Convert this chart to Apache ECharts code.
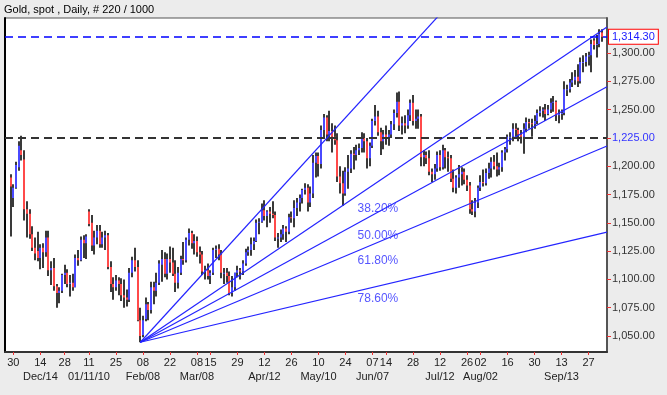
<!DOCTYPE html>
<html><head><meta charset="utf-8">
<script src="https://cdn.jsdelivr.net/npm/echarts@6/dist/echarts.min.js"></script>
<style>html,body{margin:0;padding:0;background:#ececec}#c{width:667px;height:395px}</style>
</head><body><div id="c"></div>
<script>
const dates = [
'2009-11-27','2009-11-30',
'2009-12-01','2009-12-02','2009-12-03','2009-12-04','2009-12-07','2009-12-08','2009-12-09','2009-12-10','2009-12-11','2009-12-14','2009-12-15','2009-12-16','2009-12-17','2009-12-18','2009-12-21','2009-12-22','2009-12-23','2009-12-24','2009-12-28','2009-12-29','2009-12-30','2009-12-31',
'2010-01-04','2010-01-05','2010-01-06','2010-01-07','2010-01-08','2010-01-11','2010-01-12','2010-01-13','2010-01-14','2010-01-15','2010-01-18','2010-01-19','2010-01-20','2010-01-21','2010-01-22','2010-01-25','2010-01-26','2010-01-27','2010-01-28','2010-01-29',
'2010-02-01','2010-02-02','2010-02-03','2010-02-04','2010-02-05','2010-02-08','2010-02-09','2010-02-10','2010-02-11','2010-02-12','2010-02-15','2010-02-16','2010-02-17','2010-02-18','2010-02-19','2010-02-22','2010-02-23','2010-02-24','2010-02-25','2010-02-26',
'2010-03-01','2010-03-02','2010-03-03','2010-03-04','2010-03-05','2010-03-08','2010-03-09','2010-03-10','2010-03-11','2010-03-12','2010-03-15','2010-03-16','2010-03-17','2010-03-18','2010-03-19','2010-03-22','2010-03-23','2010-03-24','2010-03-25','2010-03-26','2010-03-29','2010-03-30','2010-03-31',
'2010-04-01','2010-04-02','2010-04-05','2010-04-06','2010-04-07','2010-04-08','2010-04-09','2010-04-12','2010-04-13','2010-04-14','2010-04-15','2010-04-16','2010-04-19','2010-04-20','2010-04-21','2010-04-22','2010-04-23','2010-04-26','2010-04-27','2010-04-28','2010-04-29','2010-04-30',
'2010-05-03','2010-05-04','2010-05-05','2010-05-06','2010-05-07','2010-05-10','2010-05-11','2010-05-12','2010-05-13','2010-05-14','2010-05-17','2010-05-18','2010-05-19','2010-05-20','2010-05-21','2010-05-24','2010-05-25','2010-05-26','2010-05-27','2010-05-28','2010-05-31',
'2010-06-01','2010-06-02','2010-06-03','2010-06-04','2010-06-07','2010-06-08','2010-06-09','2010-06-10','2010-06-11','2010-06-14','2010-06-15','2010-06-16','2010-06-17','2010-06-18','2010-06-21','2010-06-22','2010-06-23','2010-06-24','2010-06-25','2010-06-28','2010-06-29','2010-06-30',
'2010-07-01','2010-07-02','2010-07-05','2010-07-06','2010-07-07','2010-07-08','2010-07-09','2010-07-12','2010-07-13','2010-07-14','2010-07-15','2010-07-16','2010-07-19','2010-07-20','2010-07-21','2010-07-22','2010-07-23','2010-07-26','2010-07-27','2010-07-28','2010-07-29','2010-07-30',
'2010-08-02','2010-08-03','2010-08-04','2010-08-05','2010-08-06','2010-08-09','2010-08-10','2010-08-11','2010-08-12','2010-08-13','2010-08-16','2010-08-17','2010-08-18','2010-08-19','2010-08-20','2010-08-23','2010-08-24','2010-08-25','2010-08-26','2010-08-27','2010-08-30','2010-08-31',
'2010-09-01','2010-09-02','2010-09-03','2010-09-06','2010-09-07','2010-09-08','2010-09-09','2010-09-10','2010-09-13','2010-09-14','2010-09-15','2010-09-16','2010-09-17','2010-09-20','2010-09-21','2010-09-22','2010-09-23','2010-09-24','2010-09-27','2010-09-28','2010-09-29','2010-09-30',
'2010-10-01','2010-10-04'];

const opens = [
1190,1172,
1181,1199,1214,1206,1162,1158,1140,1128,1125,1119,1128,1124,1137,1108,1110,1094,1088,1090,1104,1106,1096,1097,
1093,1119,1117,1135,1132,1160,1150,1130,1137,1143,1131,1137,1139,1111,1096,1093,1099,1096,1086,1084,
1082,1106,1117,1111,1064,1051,1065,1078,1073,1093,1090,1097,1113,1118,1105,1118,1115,1105,1097,1106,
1118,1117,1135,1141,1132,1134,1124,1122,1107,1108,1103,1106,1126,1127,1122,1106,1106,1103,1088,1093,1106,1108,1107,
1114,1124,1126,1131,1134,1150,1151,1161,1156,1160,1158,1157,1137,1137,1140,1145,1142,1155,1154,1163,1168,1172,
1179,1181,1168,1176,1203,1209,1202,1232,1243,1228,1231,1226,1223,1191,1185,1176,1195,1198,1211,1210,1214,
1216,1225,1222,1207,1218,1240,1244,1230,1222,1228,1224,1228,1237,1247,1257,1236,1238,1236,1245,1256,1240,1242,
1244,1208,1210,1207,1195,1193,1198,1210,1199,1214,1208,1207,1189,1181,1190,1193,1195,1188,1183,1162,1160,1168,
1181,1186,1185,1194,1198,1204,1200,1197,1199,1212,1215,1226,1226,1233,1232,1228,1226,1233,1239,1238,1237,1240,
1247,1249,1250,1246,1250,1256,1257,1245,1246,1247,1268,1268,1274,1276,1279,1275,1292,1292,1297,1298,1311,1307,
1308,1318];
const highs = [
1193,1184,
1204,1222,1227,1214,1169,1162,1147,1137,1142,1131,1132,1143,1143,1116,1119,1096,1093,1105,1113,1109,1104,1105,
1122,1126,1138,1139,1140,1162,1157,1143,1148,1148,1142,1143,1141,1116,1102,1104,1102,1101,1100,1091,
1110,1120,1128,1117,1075,1068,1084,1080,1098,1098,1106,1117,1126,1124,1123,1129,1128,1117,1111,1121,
1133,1137,1145,1143,1140,1138,1129,1125,1112,1114,1108,1128,1130,1131,1126,1110,1110,1107,1103,1106,1112,1110,1117,
1127,1129,1137,1137,1153,1154,1167,1170,1161,1164,1169,1160,1141,1144,1148,1147,1158,1160,1170,1172,1175,1180,
1185,1184,1182,1210,1212,1212,1236,1246,1245,1249,1238,1236,1229,1200,1196,1199,1210,1214,1217,1219,1220,
1230,1229,1225,1221,1242,1254,1249,1234,1232,1236,1232,1240,1250,1265,1266,1244,1245,1250,1259,1263,1250,1250,
1246,1214,1213,1214,1198,1202,1213,1214,1219,1216,1213,1210,1197,1192,1201,1199,1198,1192,1186,1170,1172,1183,
1192,1197,1198,1203,1208,1210,1212,1203,1214,1217,1228,1230,1238,1238,1234,1232,1238,1243,1242,1242,1245,1250,
1253,1252,1255,1254,1260,1262,1258,1250,1250,1275,1272,1277,1283,1285,1290,1296,1298,1300,1301,1312,1313,1316,
1321,1321];
const lows = [
1138,1164,
1180,1196,1205,1152,1137,1136,1125,1117,1116,1109,1110,1120,1103,1095,1090,1075,1079,1088,1096,1093,1085,1090,
1093,1112,1116,1119,1118,1147,1125,1122,1131,1128,1128,1126,1109,1089,1082,1090,1086,1081,1075,1076,
1080,1102,1107,1063,1044.5,1049,1063,1064,1070,1078,1085,1095,1098,1102,1100,1106,1103,1089,1092,1104,
1113,1115,1130,1127,1122,1120,1114,1104,1100,1100,1096,1104,1119,1117,1101,1096,1097,1086,1085,1090,1102,1100,1104,
1112,1121,1121,1126,1133,1140,1150,1152,1146,1150,1154,1134,1128,1133,1135,1133,1140,1150,1146,1156,1160,1167,
1175,1160,1164,1172,1190,1191,1198,1225,1222,1222,1212,1219,1186,1176,1165,1174,1180,1194,1197,1205,1210,
1212,1212,1198,1200,1216,1236,1227,1210,1215,1219,1218,1225,1232,1243,1231,1228,1229,1233,1240,1236,1233,1233,
1200,1200,1202,1192,1186,1188,1195,1196,1197,1198,1195,1186,1177,1176,1181,1183,1184,1178,1158,1157,1155,1163,
1178,1182,1183,1189,1190,1197,1191,1192,1195,1205,1212,1219,1222,1226,1222,1220,1211,1230,1233,1226,1233,1237,
1244,1243,1240,1245,1247,1248,1240,1238,1241,1245,1262,1265,1270,1272,1270,1273,1283,1288,1289,1283,1303,1296,
1305,1310];
const closes = [
1182,1181,
1201,1218,1210,1162,1158,1140,1128,1123,1119,1128,1124,1137,1108,1110,1094,1088,1090,1104,1106,1096,1097,1093,
1119,1117,1135,1132,1138,1149,1130,1137,1143,1131,1137,1139,1111,1096,1093,1099,1096,1086,1084,1082,
1106,1117,1111,1064,1050,1064,1078,1073,1093,1090,1097,1114,1118,1105,1118,1115,1105,1097,1106,1118,
1117,1135,1141,1132,1134,1124,1122,1107,1108,1103,1106,1126,1127,1122,1106,1106,1103,1088,1093,1106,1108,1107,1114,
1124,1126,1131,1134,1150,1151,1161,1156,1160,1158,1157,1137,1137,1140,1145,1142,1155,1154,1163,1168,1172,1179,
1181,1168,1176,1203,1209,1202,1232,1243,1228,1231,1226,1223,1191,1185,1176,1195,1198,1211,1210,1214,1216,
1225,1222,1207,1218,1240,1244,1230,1222,1228,1224,1228,1237,1247,1257,1236,1238,1236,1245,1256,1240,1242,1244,
1208,1210,1207,1195,1193,1198,1210,1199,1214,1208,1207,1189,1181,1190,1193,1195,1188,1183,1162,1160,1168,1181,
1186,1185,1194,1198,1204,1200,1197,1199,1212,1215,1226,1226,1233,1232,1228,1226,1233,1239,1238,1237,1240,1247,
1249,1250,1246,1250,1256,1257,1245,1246,1247,1268,1268,1274,1276,1279,1275,1292,1292,1297,1298,1308,1307,1308,
1317,1314.3];

const tickDates = ['2009-11-30','2009-12-14','2009-12-28','2010-01-11','2010-01-25','2010-02-08','2010-02-22','2010-03-08','2010-03-15','2010-03-29','2010-04-12','2010-04-26','2010-05-10','2010-05-24','2010-06-07','2010-06-14','2010-06-28','2010-07-12','2010-07-26','2010-08-02','2010-08-16','2010-08-30','2010-09-13','2010-09-27'];
const tickLabels = ['30','14','28','11','25','08','22','08','15','29','12','26','10','24','07','14','28','12','26','02','16','30','13','27'];
const monthDates = ['2009-12-14','2010-01-11','2010-02-08','2010-03-08','2010-04-12','2010-05-10','2010-06-07','2010-07-12','2010-08-02','2010-09-13'];
const monthLabels = ['Dec/14','01/11/10','Feb/08','Mar/08','Apr/12','May/10','Jun/07','Jul/12','Aug/02','Sep/13'];
const yTicks = [1050,1075,1100,1125,1150,1175,1200,1225,1250,1275,1300];

// Fibonacci fan: anchor at the Feb 5 low; values of each fan line on the last date
const fanAnchorDate = '2010-02-05';
const fanAnchorValue = 1044.5;
const fanRefDate = '2010-10-04';
const fanRefValues = [1490.8, 1320.0, 1267.7, 1216.0, 1140.8];
const fanLabelTexts = ['38.20%','50.00%','61.80%','78.60%'];
const fanLabelDate = '2010-06-09';
const fanLabelValues = [1162.2, 1138.3, 1116.5, 1082.7];

const lastPrice = 1314.30;
const resistanceLevel = 1225;
const titleText = 'Gold, spot , Daily, # 220 / 1000';

const FONT = "'Liberation Sans', Arial, sans-serif";
const X_MIN = -2.1, X_MAX = 220.85, Y_MIN = 1035.9, Y_MAX = 1330.9;

const ohlc = dates.map((d, i) => [i, opens[i], closes[i], lows[i], highs[i]]);
const tickIdx = tickDates.map(d => dates.indexOf(d));
const labelMap = {};
tickIdx.forEach((ix, k) => { labelMap[ix] = tickLabels[k]; });
monthDates.forEach((d, k) => { const ix = dates.indexOf(d); labelMap[ix] = labelMap[ix] + '\n' + monthLabels[k]; });

const aIdx = dates.indexOf(fanAnchorDate), rIdx = dates.indexOf(fanRefDate);
const fanSeries = fanRefValues.map(v => {
  const slope = (v - fanAnchorValue) / (rIdx - aIdx);
  return {
    type: 'line', data: [[aIdx, fanAnchorValue], [X_MAX, fanAnchorValue + slope * (X_MAX - aIdx)]],
    showSymbol: false, symbol: 'none', silent: true, clip: true, z: 5,
    lineStyle: { color: '#2424ff', width: 1.2 }
  };
});
const lIdx = dates.indexOf(fanLabelDate);

function fmt(v) {
  return v.toLocaleString('en-US', { minimumFractionDigits: 2, maximumFractionDigits: 2 });
}

const chart = echarts.init(document.getElementById('c'));
chart.setOption({
  animation: false,
  backgroundColor: '#ececec',
  title: { text: titleText, left: 4, top: 4, padding: 0,
    textStyle: { fontSize: 11, fontWeight: 'normal', color: '#000', fontFamily: FONT } },
  grid: { left: 5, right: 60, top: 18, bottom: 43, show: true, backgroundColor: '#ffffff', borderColor: '#555', borderWidth: 1 },
  xAxis: {
    type: 'value', min: X_MIN, max: X_MAX,
    axisLine: { show: true, onZero: false, lineStyle: { color: '#333', width: 2 } },
    axisTick: { show: true, customValues: tickIdx, length: 3, lineStyle: { color: '#e33', width: 1 } },
    axisLabel: { customValues: tickIdx, margin: 4, color: '#222', fontSize: 11, fontFamily: FONT, lineHeight: 14,
      formatter: v => labelMap[Math.round(v)] || '' },
    splitLine: { show: false }
  },
  yAxis: [{
    type: 'value', position: 'right', min: Y_MIN, max: Y_MAX,
    axisLine: { show: true, onZero: false, lineStyle: { color: '#555', width: 2 } },
    axisTick: { show: true, customValues: yTicks, length: 4, lineStyle: { color: '#e33', width: 1 } },
    axisLabel: { customValues: yTicks, margin: 5, color: '#333', fontSize: 11, fontFamily: FONT,
      formatter: v => v === resistanceLevel ? '{b|' + fmt(v) + '}' : fmt(v),
      rich: { b: { color: '#3333ff', fontSize: 11, fontFamily: FONT } } },
    splitLine: { show: false }
  }, {
    type: 'value', position: 'left', min: Y_MIN, max: Y_MAX,
    axisLine: { show: true, onZero: false, lineStyle: { color: '#000', width: 2 } },
    axisTick: { show: false }, axisLabel: { show: false }, splitLine: { show: false }
  }],
  series: [{
    type: 'custom', data: ohlc, encode: { x: 0, y: [1, 2, 3, 4] }, z: 3,
    renderItem: function (params, api) {
      const i = api.value(0), o = api.value(1), c = api.value(2), l = api.value(3), h = api.value(4);
      const pH = api.coord([i, h]), pL = api.coord([i, l]), pO = api.coord([i, o]), pC = api.coord([i, c]);
      const x = Math.round(pH[0]) - 1;
      const top = Math.min(pO[1], pC[1]), bh = Math.max(1, Math.abs(pO[1] - pC[1]));
      return { type: 'group', children: [
        { type: 'rect', shape: { x: x, y: pH[1], width: 2, height: Math.max(1, pL[1] - pH[1]) }, style: { fill: '#3a3a3a' } },
        { type: 'rect', shape: { x: x, y: top, width: 2, height: bh }, style: { fill: c >= o ? '#4a4aff' : '#ff4a4a' } }
      ] };
    },
    markLine: { symbol: 'none', silent: true, z: 6, data: [
      { yAxis: lastPrice, lineStyle: { color: '#0000ff', type: [8, 5], width: 1.5 },
        label: { show: true, position: 'end', distance: 2, formatter: fmt(lastPrice), color: '#1a1aff', fontSize: 11, fontFamily: FONT,
          backgroundColor: '#fff', borderColor: '#ff0000', borderWidth: 1, padding: [2, 3, 1, 3] } },
      { yAxis: resistanceLevel, lineStyle: { color: '#333', type: [8, 5], width: 2 }, label: { show: false } }
    ] }
  }].concat(fanSeries).concat([{
    type: 'scatter', symbolSize: 1, itemStyle: { color: 'rgba(0,0,0,0)' }, silent: true, z: 7,
    data: fanLabelValues.map((v, k) => ({ value: [lIdx, v], name: fanLabelTexts[k] })),
    label: { show: true, position: 'inside', formatter: p => p.name, color: '#2a2aff', fontSize: 12, fontFamily: FONT }
  }])
});
</script></body></html>
